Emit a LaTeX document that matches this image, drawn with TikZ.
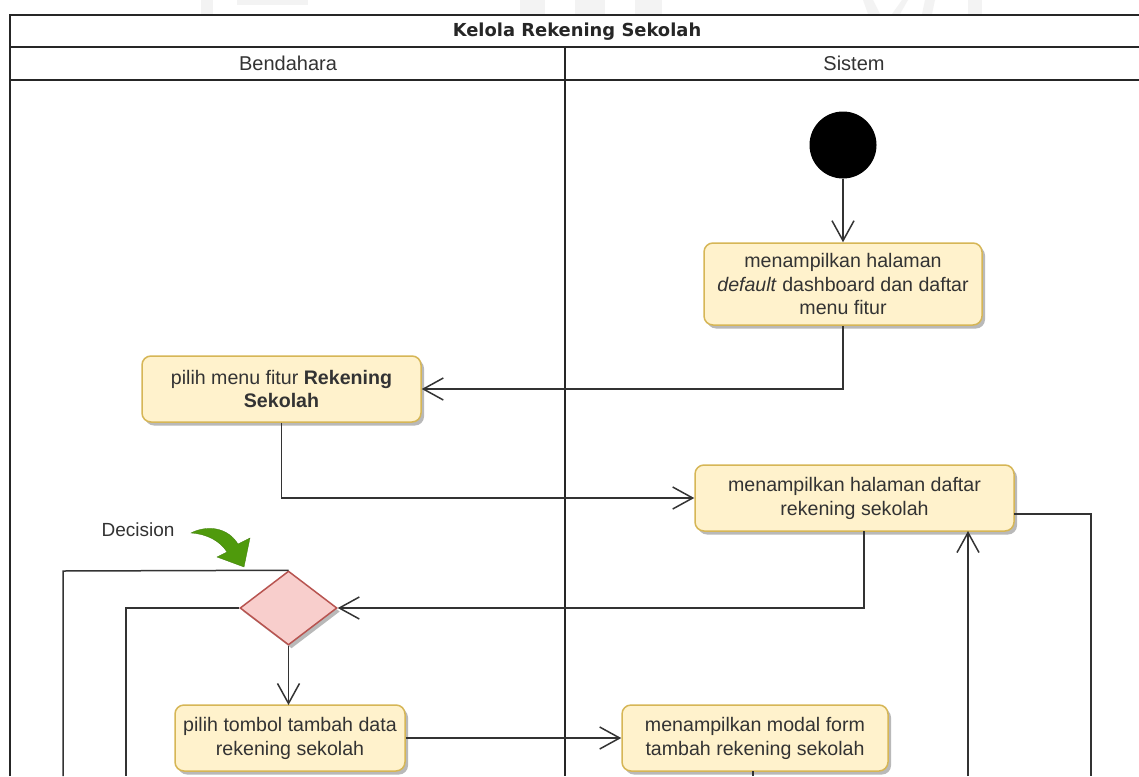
\documentclass[tikz,border=0pt]{standalone}
\usepackage{fontspec}
\setmainfont{Liberation Sans}
\newfontfamily\titlefont{DejaVu Sans}
\usetikzlibrary{shapes.geometric,arrows.meta,shadows}
\definecolor{boxfill}{HTML}{FFF2CC}
\definecolor{boxline}{HTML}{D6B656}
\definecolor{dfill}{HTML}{F8CECC}
\definecolor{dline}{HTML}{B85450}
\definecolor{linec}{HTML}{333333}
\definecolor{greenf}{HTML}{4F9A0C}
\definecolor{faintgrey}{HTML}{F3F3F3}
\tikzset{
  x=1pt,y=-1pt,
  action/.style={draw=boxline,fill=boxfill,rounded corners=9pt,line width=1.5pt,align=center,text=black!80,
    font=\fontsize{19.6}{23.9}\selectfont,inner sep=0pt,
    drop shadow={shadow xshift=3pt,shadow yshift=-3.5pt,fill=black!50,opacity=.55}},
  decisionbox/.style={diamond,aspect=1.31,draw=dline,fill=dfill,line width=1.5pt,inner sep=0pt,
    drop shadow={shadow xshift=3pt,shadow yshift=-3.5pt,fill=black!50,opacity=.55}},
  flow/.style={draw=linec,line width=1.5pt,-{Straight Barb[length=20pt,width=22pt,line width=1.5pt]}},
  plainflow/.style={draw=linec,line width=1.5pt},
  frameline/.style={draw=black!85,line width=1.6pt},
  head/.style={font=\fontsize{20}{24}\selectfont,text=black!80},
}
\begin{document}
\begin{tikzpicture}
\useasboundingbox (0,0) rectangle (1139,776);
\fill[white] (0,0) rectangle (1139,776);
% faint marks above the frame
\fill[faintgrey] (201,0) rectangle (213,14);
\fill[faintgrey] (237,0) rectangle (308,5);
\fill[faintgrey] (520,0) rectangle (545,14);
\fill[faintgrey] (575,0) rectangle (605,14);
\fill[faintgrey] (635,0) rectangle (662,14);
\fill[faintgrey] (863,0) -- (873,0) -- (880,14) -- (868,14) -- cycle;
\fill[faintgrey] (902,0) -- (908,0) -- (900,14) -- (892,14) -- cycle;
\fill[faintgrey] (925,0) -- (935,0) -- (932,14) -- (922,14) -- cycle;
\fill[faintgrey] (968,0) rectangle (982,14);
% frame
\draw[frameline] (10,776) -- (10,15) -- (1139,15);
\draw[frameline] (10,47) -- (1139,47);
\draw[frameline] (10,80) -- (1139,80);
\draw[frameline] (565,47) -- (565,776);
\node[font=\titlefont\fontsize{17.9}{20}\selectfont\bfseries,text=black!85] (title) at (577,31.5) {Kelola Rekening Sekolah};
\node[head] (bend) at (288,63) {Bendahara};
\node[head] (sis) at (854,63) {Sistem};
% nodes
\node[circle,fill=black,minimum size=67pt,inner sep=0pt] (start) at (843,145) {};
\node[action,minimum width=278pt,minimum height=82pt] (b1) at (843,284) {menampilkan halaman\\\textit{default} dashboard dan daftar\\menu fitur};
\node[action,minimum width=279pt,minimum height=66pt] (b2) at (281.5,389) {pilih menu fitur \textbf{Rekening}\\\textbf{Sekolah}};
\node[action,minimum width=319pt,minimum height=66pt] (b3) at (854.5,498) {menampilkan halaman daftar\\rekening sekolah};
\node[decisionbox,minimum width=97pt,minimum height=74pt] (d) at (288.5,608) {};
\node[action,minimum width=230pt,minimum height=66pt] (b4) at (290,738) {pilih tombol tambah data\\rekening sekolah};
\node[action,minimum width=266pt,minimum height=66pt] (b5) at (755,738) {menampilkan modal form\\tambah rekening sekolah};
\node[font=\fontsize{19}{22}\selectfont,text=black!80] (dec) at (138,530) {Decision};
% green arrow
\fill[greenf,draw=greenf!80!black,line width=.3pt] (191,533) .. controls (204,526) and (226,525) .. (238,544) -- (250,538) -- (244,567) -- (217,557) -- (227,552) .. controls (220,541) and (207,534) .. (191,533) -- cycle;
% free ends
\coordinate (e1) at (1091,776);
\coordinate (e2) at (968,776);
\coordinate (e3) at (63,776);
\coordinate (e4) at (126,776);
\coordinate (e5) at (753,776);
% connectors
\draw[flow] (start) -- (b1);
\draw[flow] (b1.south) -- (843,389) -- (b2.east);
\draw[flow] (b2.south) -- (281.5,498) -- (b3.west);
\draw[flow] (864,531) -- (864,608) -- (d.east);
\draw[flow] (d.south) -- (288.5,705);
\draw[flow] (b4.east) -- (b5.west);
\draw[flow] (e2) -- (968,531);
\draw[plainflow] (1014,514) -- (1091,514) -- (e1);
\draw[plainflow] (d.north) -- (63,571) -- (e3);
\draw[plainflow] (d.west) -- (126,608) -- (e4);
\draw[plainflow] (753,771) -- (e5);
\end{tikzpicture}
\end{document}
